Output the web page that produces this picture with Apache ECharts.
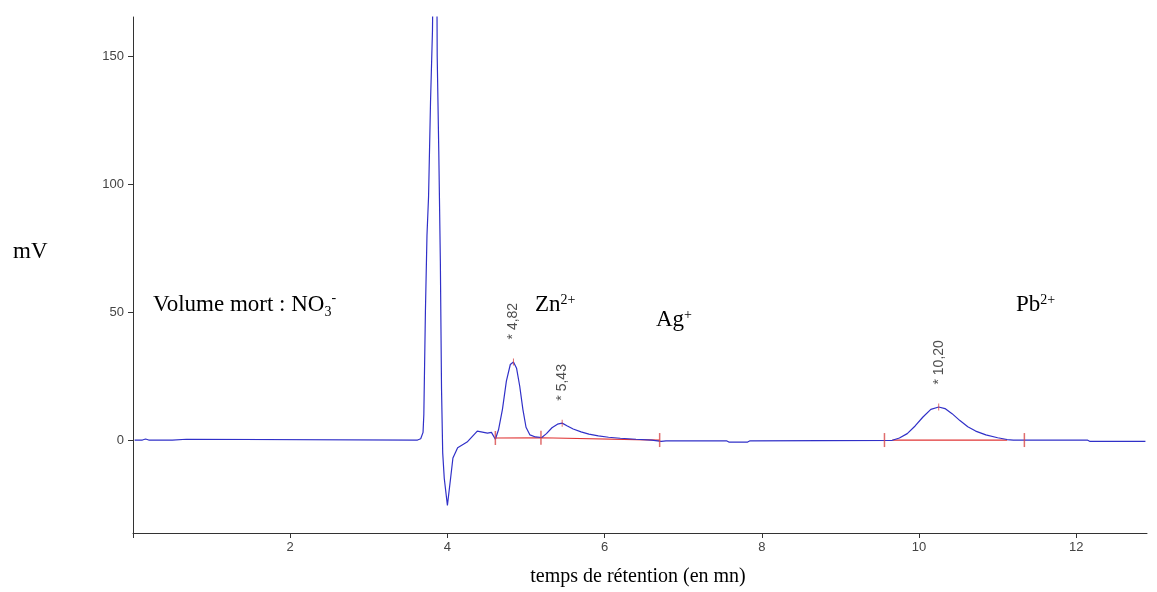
<!DOCTYPE html>
<html><head><meta charset="utf-8">
<script src="https://cdn.jsdelivr.net/npm/echarts@6/dist/echarts.min.js"></script>
<style>html,body{margin:0;padding:0;background:#fff}#c{width:1157px;height:592px}</style>
</head><body><div id="c"></div>
<script>
// retention time (min) and detector signal (mV)
const times  = [0.02,0.12,0.16,0.20,0.50,0.52,0.68,0.70,3.62,3.66,3.69,3.70,3.72,3.74,3.76,3.785,3.81,3.83,3.86,3.87,3.89,3.91,3.925,3.94,3.96,4.00,4.04,4.07,4.13,4.25,4.38,4.51,4.56,4.61,4.65,4.70,4.75,4.80,4.84,4.88,4.92,4.96,5.00,5.05,5.12,5.20,5.26,5.33,5.40,5.46,5.52,5.60,5.70,5.80,5.92,6.05,6.20,6.40,6.60,6.72,6.78,7.55,7.58,7.82,7.85,9.66,9.75,9.85,9.95,10.05,10.15,10.25,10.33,10.42,10.52,10.62,10.72,10.85,11.00,11.12,11.20,12.14,12.17,12.88];
const signal = [0,0,0.4,0,0,0.3,0.3,0,0,0.5,3,10,50,80,95,132,160,220,220,150,113,70,20,-5,-15,-25.5,-15,-7,-3,-0.8,3.5,2.7,3.0,0.3,4,12,23,29.5,30.5,28,21,12,5,2,1.2,1,2.5,4.8,6.2,6.6,5.6,4.3,3.2,2.3,1.6,1.1,0.7,0.3,0,-0.5,-0.3,-0.3,-0.8,-0.8,-0.3,-0.1,0.8,2.5,5.5,9,12,12.9,12.3,10.3,7.6,5.2,3.5,2,0.9,0.2,0,0,-0.5,-0.5];
const xTicks = [0,2,4,6,8,10,12];
const yTicks = [0,50,100,150];
// integrated peaks
const peakTimes   = [4.84,5.46,10.25];
const peakHeights = [30.5,6.6,12.9];
const peakLabels  = ['* 4,82','* 5,43','* 10,20'];
// integration boundaries
const boundTimes  = [4.61,5.19,6.70,9.56,11.34];
const boundLevels = [0.8,0.9,0,0,0];
// drawn baselines
const baseA_t = [4.61,5.19,6.70], baseA_v = [0.8,0.9,0];
const baseB_t = [9.66,11.12],     baseB_v = [0,0];

const zip = (a,b)=>a.map((v,i)=>[v,b[i]]);
const chart = echarts.init(document.getElementById('c'));
const serif = 'Liberation Serif';
const sans = 'Liberation Sans';
const ann = (x,y,text,rich)=>({type:'text',x:x,y:y,silent:true,style:{text:text,align:'left',verticalAlign:'middle',fill:'#000',rich:rich}});
const richBase = {
  m:{fontFamily:serif,fontSize:23,color:'#000'},
  sup:{fontFamily:serif,fontSize:14,color:'#000',verticalAlign:'top'},
  sub:{fontFamily:serif,fontSize:14,color:'#000',verticalAlign:'bottom',lineHeight:28}
};
chart.setOption({
  animation:false,
  backgroundColor:'#fff',
  grid:{left:133,right:10,top:17,bottom:59},
  xAxis:{type:'value',min:0,max:12.9,
    axisLine:{onZero:false,lineStyle:{color:'#333',width:1}},
    axisTick:{length:5,lineStyle:{color:'#333'},customValues:xTicks},
    axisLabel:{customValues:xTicks.filter(v=>v!==0),color:'#444',fontFamily:sans,fontSize:13,margin:8},
    splitLine:{show:false}},
  yAxis:{type:'value',min:-36.3,max:165.2,
    axisLine:{show:true,onZero:false,lineStyle:{color:'#333',width:1}},
    axisTick:{show:true,length:5,lineStyle:{color:'#333'},customValues:yTicks},
    axisLabel:{customValues:yTicks,color:'#444',fontFamily:sans,fontSize:13,margin:9},
    splitLine:{show:false}},
  graphic:[
    ann(13,252,'{m|mV}',richBase),
    {type:'text',x:638,y:577,silent:true,style:{text:'temps de rétention (en mn)',font:'20px "Liberation Serif"',fill:'#000',align:'center',verticalAlign:'middle'}},
    ann(153,305,'{m|Volume mort : NO}{sub|3}{sup|-}',richBase),
    ann(535,305,'{m|Zn}{sup|2+}',richBase),
    ann(656,320,'{m|Ag}{sup|+}',richBase),
    ann(1016,305,'{m|Pb}{sup|2+}',richBase)
  ],
  series:[
    {type:'line',data:zip(baseA_t,baseA_v),symbol:'none',lineStyle:{color:'#e03535',width:1.2},z:2},
    {type:'line',data:zip(baseB_t,baseB_v),symbol:'none',lineStyle:{color:'#e03535',width:1.2},z:2},
    {type:'line',data:zip(times,signal),symbol:'none',lineStyle:{color:'#3030c8',width:1.2},z:3,clip:true},
    {type:'scatter',data:zip(boundTimes,boundLevels),symbol:'rect',symbolSize:[1.5,14],itemStyle:{color:'#d84848'},z:4},
    {type:'scatter',data:zip(peakTimes,peakHeights).map((p,i)=>({value:p,label:{formatter:peakLabels[i]}})),
      symbol:'rect',symbolSize:[1,7],itemStyle:{color:'#d84848'},z:4,
      label:{show:true,position:'top',distance:19,rotate:90,align:'left',verticalAlign:'middle',
        fontFamily:sans,fontSize:14,color:'#222'}}
  ]
});
</script></body></html>
